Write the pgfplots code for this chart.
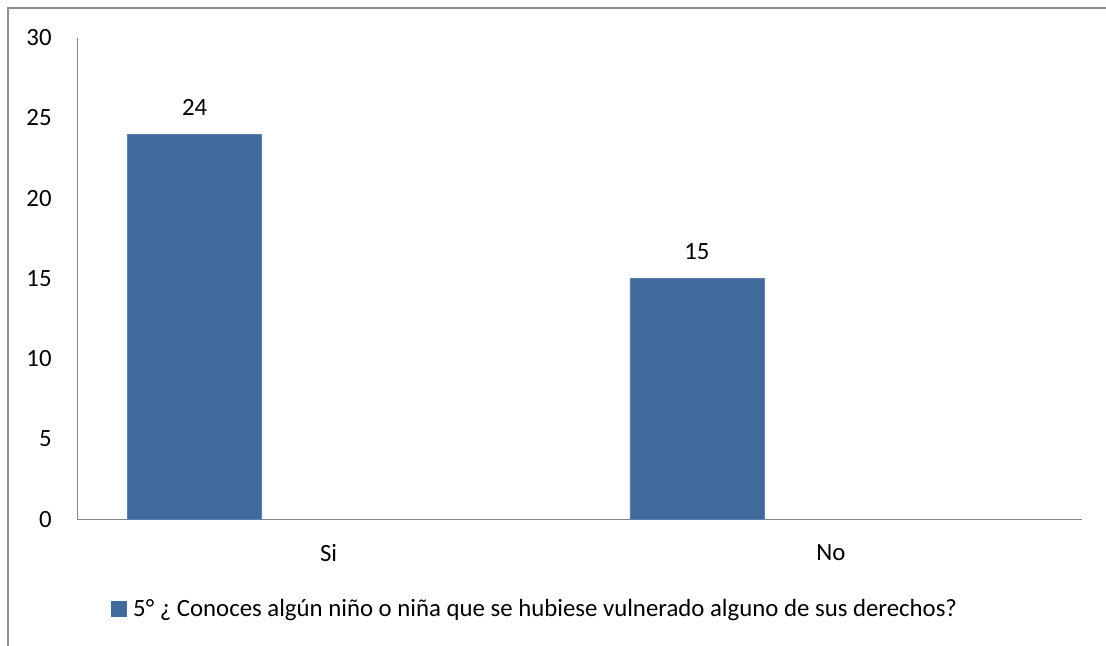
\documentclass[border=0pt]{standalone}
\usepackage{pgfplots}
\pgfplotsset{compat=1.18}
\usepackage{fontspec}
\setmainfont{Carlito}
\definecolor{barblue}{RGB}{65,106,156}
\definecolor{axgray}{RGB}{134,134,134}
\definecolor{framegray}{RGB}{142,142,142}
\begin{document}
\begin{tikzpicture}
\useasboundingbox (-38.75bp,-63.35bp) rectangle (514.25bp,259.65bp);
\draw[framegray, line width=0.75bp] (-34.75bp,-64bp) -- (-34.75bp,255.65bp) -- (515bp,255.65bp);
\begin{axis}[
  at={(0,0)}, anchor=origin,
  scale only axis,
  width=502.25bp, height=240.8bp,
  xmin=0, xmax=2, ymin=0, ymax=30,
  axis x line*=bottom, axis y line*=left,
  axis line style={axgray, line width=0.75bp, -},
  major tick length=0pt,
  xtick={0.5,1.5}, xticklabels={Si,No},
  ytick={0,5,10,15,20,25,30},
  font=\fontsize{12.45}{15}\selectfont,
  /pgf/number format/assume math mode=true,
  yticklabel style={anchor=east, inner sep=0pt, xshift=-12.75bp},
  xticklabel style={anchor=north, inner sep=0pt, yshift=-12.6bp},
  bar width=0.2668,
  nodes near coords,
  every node near coord/.append style={anchor=south, inner sep=0pt, yshift=9.25bp, font=\fontsize{12.45}{15}\selectfont},
  legend style={draw=none, fill=none, at={(0.03335,-0.18625)}, anchor=west, inner sep=0pt,
    nodes={inner sep=0pt, anchor=west}, font=\fontsize{12.45}{15}\selectfont,
    /tikz/every odd column/.append style={column sep=3bp}},
  legend image code/.code={\fill[barblue] (0bp,-3.75bp) rectangle (7.5bp,3.75bp);},
]
\addplot[ybar, fill=barblue, draw=barblue!85!white, line width=0.4bp, bar shift=0pt]
  coordinates {(0.2333,24) (1.2333,15)};
\addlegendentry{5° ¿ Conoces algún niño o niña que se hubiese vulnerado alguno de sus derechos?}
\end{axis}
\end{tikzpicture}
\end{document}
